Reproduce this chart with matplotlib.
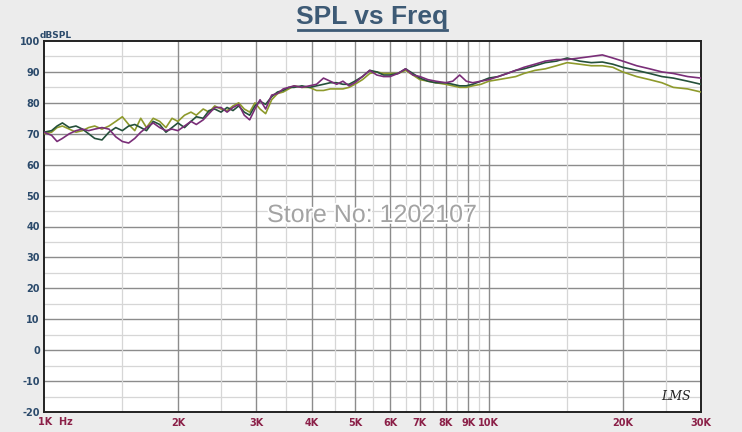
import matplotlib
matplotlib.use("Agg")
import matplotlib.pyplot as plt
from matplotlib.lines import Line2D
import matplotlib.patheffects as pe

# frequency points (Hz) shared by all three curves
freq = [1000, 1040, 1070, 1100, 1140, 1180, 1220, 1260, 1300, 1350, 1400, 1450, 1500, 1550,
        1600, 1650, 1700, 1760, 1820, 1880, 1940, 2000, 2070, 2140, 2200, 2280, 2350, 2420,
        2500, 2580, 2660, 2740, 2820, 2900, 2980, 3060, 3150, 3250, 3350, 3450, 3550, 3650,
        3800, 3950, 4100, 4250, 4400, 4550, 4700, 4850, 5000, 5200, 5400, 5600, 5800, 6000,
        6250, 6500, 6750, 7000, 7300, 7600, 8000, 8300, 8600, 8900, 9200, 9600, 10000, 10500,
        11000, 11500, 12000, 12700, 13400, 14200, 15000, 16000, 17000, 18000, 19000, 20000,
        21500, 23000, 24500, 26000, 28000, 30000]

spl_purple = [70.5, 69.5, 67.5, 68.5, 70, 71, 71.5, 71, 71.5, 72, 71.5, 69, 67.5, 67,
              68.5, 70.5, 72, 73.5, 72, 71, 71.5, 71, 72.5, 74, 73, 74.5, 76.5, 78.5,
              78.5, 77, 78.5, 79.5, 76, 74.5, 78, 81, 78, 82.5, 83, 84.5, 85, 85.5,
              85, 85.5, 86, 88, 87, 86, 87, 85.5, 86.5, 88.5, 90.5, 89, 88.5, 88.5,
              89.5, 91, 89, 88.5, 87.5, 87, 86.5, 87, 89, 87, 86.5, 87, 87.5, 88.5,
              89.5, 90.5, 91.5, 92.5, 93.5, 94, 94, 94.5, 95, 95.5, 94.5, 93.5,
              92, 91, 90, 89.5, 88.5, 88]

spl_green = [70.5, 71, 72.5, 73.5, 72, 72.5, 71.5, 70, 68.5, 68, 70.5, 72, 71, 72.5,
             73, 72, 71, 74, 73, 70.5, 72, 73.5, 72, 74, 75.5, 75, 77.5, 78,
             77, 78.5, 77.5, 79, 77, 76, 79, 80.5, 79.5, 82, 83.5, 84, 85, 85,
             85.5, 85, 85.5, 86, 86.5, 86.5, 86, 86, 87, 88.5, 90.5, 90, 89, 89,
             89.5, 91, 89.5, 88, 87, 86.5, 86.5, 86, 85.5, 85.5, 86, 87, 88, 88.5,
             89.5, 90.5, 91, 92, 93, 93.5, 94.5, 93.5, 93, 93.2, 92.5, 91.5,
             90.5, 89.5, 88.5, 88, 87, 86]

spl_olive = [70, 70.5, 72, 72.5, 71.5, 70.5, 71, 72, 72.5, 71.5, 72.5, 74, 75.5, 73,
             71, 75, 72, 75, 74, 72, 75, 74, 76, 77, 76, 78, 77, 79,
             78, 77.5, 79, 80, 78, 77, 80, 78, 76.5, 81, 83, 83.5, 84.5, 85.5,
             85, 85, 84, 84, 84.5, 84.5, 84.5, 85, 86, 87.5, 89.5, 90, 89.5, 89.5,
             89.5, 90.5, 89, 87.5, 87, 86.5, 86, 85.5, 85, 85, 85.5, 86, 87, 87.5,
             88, 88.5, 89.5, 90.5, 91, 92, 93, 92.5, 92, 92, 91.5, 90,
             88.5, 87.5, 86.5, 85, 84.5, 83.5]

x_ticks = [1000, 2000, 3000, 4000, 5000, 6000, 7000, 8000, 9000, 10000, 20000, 30000]
x_labels = ["", "2K", "3K", "4K", "5K", "6K", "7K", "8K", "9K", "10K", "20K", "30K"]
x_minor = [1500, 2500, 3500, 4500, 5500, 6500, 7500, 8500, 9500, 15000, 25000]
y_ticks = list(range(-20, 101, 10))

fig = plt.figure(figsize=(7.42, 4.32), dpi=100)
fig.patch.set_facecolor("#ececec")
ax = fig.add_axes([44 / 742, 20 / 432, 657 / 742, 371 / 432])
ax.set_facecolor("white")
ax.set_xscale("log")
ax.set_xlim(1000, 30000)
ax.set_ylim(-20, 100)

# grid
for y in range(-15, 100, 10):
    ax.axhline(y, color="#d6d6d6", lw=0.9, zorder=1)
for y in y_ticks[1:-1]:
    ax.axhline(y, color="#8c8c8c", lw=1.0, zorder=1)
for x in x_minor:
    ax.axvline(x, color="#d6d6d6", lw=0.9, zorder=1)
for x in x_ticks[1:-1]:
    ax.axvline(x, color="#8c8c8c", lw=1.0, zorder=1)

ax.plot(freq, spl_olive, color="#8e9a2c", lw=1.2, zorder=3)
ax.plot(freq, spl_green, color="#24503a", lw=1.2, zorder=4)
ax.plot(freq, spl_purple, color="#7a2e78", lw=1.2, zorder=5)

for s in ax.spines.values():
    s.set_color("#222222")
    s.set_linewidth(1.4)

ax.set_xticks(x_ticks)
ax.set_xticklabels(x_labels)
ax.xaxis.set_minor_locator(matplotlib.ticker.NullLocator())
ax.tick_params(axis="x", length=0, pad=4, labelsize=7, labelcolor="#8b2048")
for t in ax.get_xticklabels():
    t.set_fontweight("bold")
ax.set_yticks(y_ticks)
ax.set_yticklabels([str(v) for v in y_ticks])
ax.tick_params(axis="y", length=0, pad=3, labelsize=7, labelcolor="#2b4a6b")
for t in ax.get_yticklabels():
    t.set_fontweight("bold")

fig.text(38 / 742, 1 - 422 / 432, "1K  Hz", fontsize=7, fontweight="bold",
         color="#8b2048", ha="left", va="center")
fig.text(40 / 742, 1 - 36 / 432, "dBSPL", fontsize=6.5, fontweight="bold",
         color="#2b4a6b", ha="left", va="center")

# title with underline
fig.text(372 / 742, 1 - 17 / 432, "SPL vs Freq", fontsize=19, fontweight="bold",
         family="Liberation Sans", color="#3d5a75", ha="center", va="center")
fig.add_artist(Line2D([298 / 742, 447 / 742], [1 - 30 / 432, 1 - 30 / 432],
                      color="#3d5a75", lw=2))

# watermark
fig.text(372 / 742, 1 - 215 / 432, "Store No: 1202107", fontsize=18,
         family="Liberation Sans", color="#a3a3a3", ha="center", va="center",
         path_effects=[pe.withStroke(linewidth=2.5, foreground="white")], zorder=10)

fig.text(676 / 742, 1 - 396 / 432, "LMS", fontsize=9, style="italic",
         family="DejaVu Serif", color="#222222", ha="center", va="center")

fig.savefig("out.png", dpi=100, facecolor=fig.get_facecolor())
